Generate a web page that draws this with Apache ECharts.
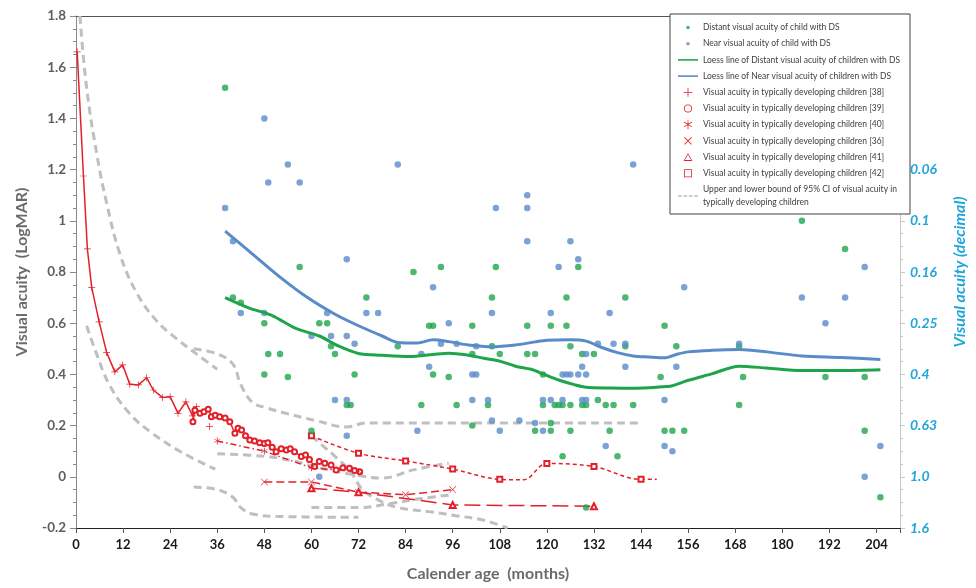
<!DOCTYPE html>
<html>
<head>
<meta charset="utf-8">
<script src="https://cdn.jsdelivr.net/npm/echarts@6/dist/echarts.min.js"></script>
<style>
  html, body { margin: 0; padding: 0; background: #fff; }
  #chart { width: 976px; height: 588px; }
</style>
</head>
<body>
<div id="chart"></div>
<script>
// children with DS: [age in months, logMAR]
const distantDS = [
  [38,1.52],[40,0.70],[42,0.68],[48,0.60],[48,0.40],[49,0.48],[52,0.48],[54,0.39],[57,0.82],[60,0.18],
  [62,0.60],[64,0.60],[65,0.51],[66,0.48],[69,0.28],[70,0.28],[71,0.40],[74,0.70],[82,0.51],[86,0.80],
  [88,0.28],[90,0.59],[91,0.59],[91,0.40],[93,0.82],[95,0.39],[97,0.28],[101,0.59],[101,0.48],[101,0.20],
  [105,0.28],[106,0.70],[106,0.51],[107,0.82],[108,0.48],[115,0.59],[115,0.48],[117,0.48],[117,0.18],[119,0.40],
  [119,0.28],[121,0.59],[121,0.21],[121,0.18],[122,0.28],[123,0.28],[124,0.28],[124,0.08],[125,0.70],[125,0.59],
  [126,0.51],[126,0.28],[126,0.18],[128,0.82],[129,0.48],[129,0.28],[130,0.28],[130,-0.12],[132,0.48],[133,0.30],
  [135,0.28],[136,0.18],[137,0.28],[138,0.08],[140,0.70],[140,0.51],[142,0.28],[149,0.39],[150,0.59],[150,0.18],
  [152,0.18],[153,0.51],[155,0.18],[169,0.51],[169,0.28],[170,0.39],[185,1.00],[191,0.39],[196,0.89],[201,0.39],
  [201,0.18],[205,-0.08]
];
const nearDS = [
  [38,1.05],[40,0.92],[42,0.64],[48,1.40],[48,0.64],[49,1.15],[54,1.22],[57,1.15],[60,0.55],[62,0.00],
  [64,0.64],[65,0.55],[66,0.30],[69,0.85],[69,0.55],[69,0.30],[69,0.16],[71,0.52],[74,0.64],[77,0.64],
  [82,1.22],[87,0.18],[88,0.48],[90,0.43],[91,0.74],[93,0.52],[95,0.60],[97,0.52],[101,0.40],[101,0.30],
  [102,0.51],[102,0.40],[105,0.30],[106,0.64],[106,0.22],[107,1.05],[108,0.18],[113,0.22],[115,1.10],[115,1.05],
  [115,0.92],[117,0.21],[119,0.30],[119,0.18],[121,0.64],[121,0.30],[123,0.82],[124,0.40],[124,0.30],[125,0.40],
  [126,0.92],[126,0.40],[128,0.85],[128,0.40],[129,0.43],[129,0.30],[130,0.48],[130,0.40],[130,0.30],[133,0.52],
  [135,0.12],[136,0.64],[137,0.52],[140,0.52],[140,0.43],[142,1.22],[150,0.30],[150,0.12],[152,0.10],[153,0.43],
  [155,0.74],[169,0.52],[185,0.70],[191,0.60],[196,0.70],[201,0.82],[201,0.00],[205,0.12]
];
const loessDistant = [
  [38,0.70],[44,0.66],[50,0.63],[56,0.58],[62,0.55],[67,0.51],[72,0.482],[78,0.475],[85,0.47],[91,0.478],
  [95,0.483],[100,0.475],[104,0.463],[108,0.452],[112,0.432],[116,0.42],[119,0.402],[123,0.378],[127,0.36],[130,0.35],
  [136,0.347],[142,0.346],[148,0.35],[152,0.356],[155,0.372],[162,0.402],[169,0.432],[176,0.425],[185,0.415],[195,0.415],
  [205,0.418]
];
const loessNear = [
  [38,0.96],[45,0.87],[52,0.78],[59,0.70],[66,0.635],[72,0.59],[78,0.55],[82,0.525],[87,0.523],[91,0.535],
  [95,0.528],[100,0.515],[106,0.508],[112,0.515],[117,0.527],[120,0.533],[126,0.535],[130,0.53],[134,0.505],[138,0.485],
  [142,0.472],[146,0.468],[150,0.465],[153,0.478],[156,0.488],[162,0.494],[169,0.497],[176,0.488],[185,0.472],[195,0.466],
  [205,0.458]
];

// typically developing children, by reference
const ref38 = [
  [0.3,1.66],[1.9,1.175],[2.9,0.89],[4,0.74],[5.9,0.605],[7.8,0.486],[9.9,0.41],[11.9,0.437],[13.7,0.362],[15.9,0.359],
  [18,0.387],[19.7,0.339],[22,0.31],[24,0.313],[26,0.248],[28,0.293],[29.7,0.238],[30.7,0.274]
];
const ref38Extra = [[34,0.196]];
const ref39 = [
  [29.8,0.215],[30.3,0.26],[31.6,0.248],[32.6,0.254],[33.7,0.264],[34.5,0.235],[35.5,0.24],[36.6,0.235],[38,0.23],[39.2,0.215],
  [40.5,0.17],[41.3,0.19],[42.2,0.183],[43.2,0.16],[44.3,0.144],[45.5,0.14],[46.8,0.133],[48,0.13],[48.9,0.133],[50,0.115],
  [51,0.098],[52.3,0.11],[53.6,0.105],[54.6,0.11],[55.7,0.098],[57.4,0.079],[58.5,0.085],[59.5,0.068],[60.8,0.04],[62,0.06],
  [63.4,0.053],[65,0.046],[66.3,0.027],[68,0.035],[69.7,0.033],[71,0.025],[72.3,0.02]
];
const ref40 = [[36,0.14],[48,0.10],[60,0.035],[72,0.02]];
const ref36 = [[48,-0.02],[60,-0.02],[72,-0.06],[84,-0.07],[96,-0.05]];
const ref41 = [[60,-0.045],[72,-0.06],[96,-0.11],[132,-0.115]];
const ref42 = [[60,0.16],[72,0.092],[84,0.062],[96,0.03],[108,-0.01],[114,-0.012],[120,0.052],[132,0.04],[144,-0.01],[148,-0.01]];
const ref42Marked = [60,72,84,96,108,120,132,144];

// 95% CI bounds (pieces of dashed line)
const ciUpperEarly = [[1,1.8],[2.7,1.52],[5.3,1.26],[7.8,1.07],[11.2,0.87],[15.4,0.72],[20.5,0.61],[25.6,0.54],[30.7,0.48],[36,0.42]];
const ciUpperLate = [[30,0.50],[36,0.48],[40,0.44],[42,0.36],[45,0.29],[48.5,0.27],[53,0.25],[61,0.22],[69,0.195],[74,0.21],[144,0.21]];
const ciLowerEarly = [[2.7,0.59],[5,0.49],[8.5,0.36],[13.5,0.25],[19,0.175],[27,0.095],[35.5,0.03]];
const ciMid = [[36,0.09],[48,0.08],[56,0.06],[62,0.035],[72,0.005],[78,-0.005],[86,0.027],[95,0.053]];
const ciDrop = [[60,0.16],[63,0.12],[66,0.08],[70,0.02],[73,-0.05],[77,-0.09],[82,-0.12],[90,-0.136],[96,-0.15],[104,-0.17],[110,-0.2]];
const ciLowFlat = [[60,-0.12],[72,-0.12],[80,-0.105],[88,-0.085],[96,-0.07]];
const ciLowCurve = [[30,-0.04],[36,-0.05],[40,-0.08],[42,-0.12],[45,-0.145],[52,-0.155],[72,-0.158]];

// right axis: logMAR position -> decimal acuity label
const rightTickLogMAR = [1.2, 1.0, 0.8, 0.6, 0.4, 0.2, 0, -0.2];
const rightTickText = ['0.06', '0.1', '0.16', '0.25', '0.4', '0.63', '1.0', '1.6'];

const GREEN = '#1ea54c';
const BLUE = '#5a8bc9';
const RED = '#e3202a';
const GREY = '#bfbfbf';
const CYAN = '#1fa5dc';

const N_DIST = 'Distant visual acuity of child with DS';
const N_NEAR = 'Near visual acuity of child with DS';
const N_LD = 'Loess line of Distant visual acuity of children with DS';
const N_LN = 'Loess line of Near visual acuity of children with DS';
const N38 = 'Visual acuity in typically developing children [38]';
const N39 = 'Visual acuity in typically developing children [39]';
const N40 = 'Visual acuity in typically developing children [40]';
const N36 = 'Visual acuity in typically developing children [36]';
const N41 = 'Visual acuity in typically developing children [41]';
const N42 = 'Visual acuity in typically developing children [42]';
const N_CI = 'Upper and lower bound of 95% CI of visual acuity in\ntypically developing children';

// marker shapes for the lines
const PLUS = 'path://M3.6,0h0.8v3.6h3.6v0.8h-3.6v3.6h-0.8v-3.6h-3.6v-0.8h3.6z';
const CROSS = 'path://M0.5,0L4,3.5L7.5,0L8,0.5L4.5,4L8,7.5L7.5,8L4,4.5L0.5,8L0,7.5L3.5,4L0,0.5z';
const STAR = 'path://M3.6,0h0.8v8h-0.8z M0.5,1.9L0.8,1.4L7.5,5.6L7.2,6.1z M7.2,1.4L7.5,1.9L0.8,6.1L0.5,5.6z';

// legend icons (corner specks keep the 10x10 box)
const PAD = 'M0,0h0.01v0.01z M10,10h-0.01v-0.01z ';
const L_DOT = 'path://' + PAD + 'M3.2,5a1.8,1.8 0 1,0 3.6,0a1.8,1.8 0 1,0 -3.6,0z';
const L_PLUS = 'path://' + PAD + 'M4.6,0.5h0.8v4.1h4.1v0.8h-4.1v4.1h-0.8v-4.1h-4.1v-0.8h4.1z';
const L_CIRC = 'path://' + PAD + 'M1,5a4,4 0 1,0 8,0a4,4 0 1,0 -8,0z M1.8,5a3.2,3.2 0 1,1 6.4,0a3.2,3.2 0 1,1 -6.4,0z';
const L_STAR = 'path://' + PAD + 'M4.6,0.5h0.8v9h-0.8z M0.9,2.7L1.3,2.1L9.1,6.7L8.7,7.3z M8.7,2.1L9.1,2.7L1.3,7.3L0.9,6.7z';
const L_CROSS = 'path://' + PAD + 'M1.8,1.2L5,4.4L8.2,1.2L8.8,1.8L5.6,5L8.8,8.2L8.2,8.8L5,5.6L1.8,8.8L1.2,8.2L4.4,5L1.2,1.8z';
const L_TRI = 'path://' + PAD + 'M5,0.8L9.4,8.8L0.6,8.8Z M5,2.4L1.95,8L8.05,8Z';
const L_RECT = 'path://' + PAD + 'M1,1h8v8h-8z M1.8,1.8v6.4h6.4v-6.4z';
const L_LINE = 'path://M0,4.2h20v1.6h-20z';
const L_DASH = 'path://M0,4.4h3.5v1.2h-3.5z M5,4.4h3.5v1.2h-3.5z M10,4.4h3.5v1.2h-3.5z M15,4.4h3.5v1.2h-3.5z';
const NO_STROKE = { borderWidth: 0, borderColor: 'transparent' };

function ciSeries(data) {
  return {
    name: N_CI, type: 'line', data: data, smooth: 0.4, symbol: 'none', z: 1,
    color: GREY, itemStyle: { color: GREY },
    lineStyle: { color: GREY, width: 3, type: [8, 5] }
  };
}

function refSeries(name, data, symbol, size, dash, smooth) {
  const hollow = symbol.indexOf('empty') === 0;
  return {
    name: name, type: 'line', data: data, smooth: smooth || false, z: 2,
    symbol: symbol, symbolSize: size, showSymbol: true,
    color: RED,
    itemStyle: hollow ? { color: RED, borderColor: RED, borderWidth: 0.8 } : { color: RED, borderWidth: 0 },
    lineStyle: { color: RED, width: 1.5, type: dash }
  };
}

const chart = echarts.init(document.getElementById('chart'), null, { renderer: 'canvas' });

chart.setOption({
  animation: false,
  backgroundColor: '#fff',
  textStyle: { fontFamily: 'Lato, "Open Sans", sans-serif' },
  grid: { left: 76, right: 74, top: 16, bottom: 60 },
  legend: {
    orient: 'vertical',
    right: 66,
    top: 14,
    padding: [7, 10, 5, 8],
    itemWidth: 20,
    itemHeight: 10,
    itemGap: 3.2,
    backgroundColor: '#fff',
    borderColor: '#404040',
    borderWidth: 1,
    borderRadius: 0,
    itemStyle: NO_STROKE,
    textStyle: {
      fontSize: 8.5,
      color: '#404040',
      lineHeight: 13,
      fontFamily: 'Lato, sans-serif'
    },
    data: [
      { name: N_DIST, icon: L_DOT, itemStyle: NO_STROKE },
      { name: N_NEAR, icon: L_DOT, itemStyle: NO_STROKE },
      { name: N_LD, icon: L_LINE, itemStyle: NO_STROKE },
      { name: N_LN, icon: L_LINE, itemStyle: NO_STROKE },
      { name: N38, icon: L_PLUS, itemStyle: NO_STROKE },
      { name: N39, icon: L_CIRC, itemStyle: NO_STROKE },
      { name: N40, icon: L_STAR, itemStyle: NO_STROKE },
      { name: N36, icon: L_CROSS, itemStyle: NO_STROKE },
      { name: N41, icon: L_TRI, itemStyle: NO_STROKE },
      { name: N42, icon: L_RECT, itemStyle: NO_STROKE },
      { name: N_CI, icon: L_DASH, itemStyle: NO_STROKE }
    ]
  },
  xAxis: [{
    type: 'value',
    min: 0, max: 210, interval: 12,
    name: 'Calender age  (months)',
    nameLocation: 'middle',
    nameGap: 38,
    nameTextStyle: { color: '#6b6b6b', fontSize: 16, fontWeight: 'bold' },
    axisLine: { show: true, onZero: false, lineStyle: { color: '#222', width: 1.2 } },
    axisTick: { show: true, length: 5, lineStyle: { color: '#555' } },
    axisLabel: {
      color: '#1a1a1a', fontSize: 13, fontWeight: 'bold', margin: 10,
      formatter: function (v) { return v % 12 === 0 ? String(v) : ''; }
    },
    splitLine: { show: false }
  }, {
    type: 'value',
    position: 'top',
    min: 0, max: 210,
    axisLine: { show: true, onZero: false, lineStyle: { color: '#555', width: 1 } },
    axisTick: { show: false },
    axisLabel: { show: false },
    splitLine: { show: false }
  }],
  yAxis: [{
    type: 'value',
    min: -0.2, max: 1.8, interval: 0.2,
    name: 'Visual acuity  (LogMAR)',
    nameLocation: 'middle',
    nameGap: 46,
    nameTextStyle: { color: '#6b6b6b', fontSize: 16, fontWeight: 'bold' },
    axisLine: { show: true, onZero: false, lineStyle: { color: '#8a8a8a' } },
    axisTick: { show: true, length: 6, lineStyle: { color: '#8a8a8a' } },
    minorTick: { show: true, splitNumber: 4, length: 3, lineStyle: { color: '#8a8a8a' } },
    axisLabel: {
      color: '#5f5f5f', fontSize: 13.5, fontWeight: 'bold', margin: 10,
      formatter: function (v) { return String(Math.round(v * 10) / 10); }
    },
    splitLine: { show: false }
  }, {
    type: 'value',
    position: 'right',
    min: -0.2, max: 1.8, interval: 0.2,
    name: 'Visual acuity (decimal)',
    nameLocation: 'middle',
    nameGap: 52,
    nameRotate: 90,
    nameTextStyle: { color: CYAN, fontSize: 16, fontWeight: 'bold', fontStyle: 'italic' },
    axisLine: { show: true, onZero: false, lineStyle: { color: '#c8c8c8' } },
    axisTick: { show: true, length: 5, lineStyle: { color: '#c8c8c8' } },
    minorTick: { show: true, splitNumber: 4, length: 3, lineStyle: { color: '#c8c8c8' } },
    axisLabel: {
      color: CYAN, fontSize: 14, fontWeight: 'bold', fontStyle: 'italic', margin: 10,
      formatter: function (v) {
        for (let i = 0; i < rightTickLogMAR.length; i++) {
          if (Math.abs(v - rightTickLogMAR[i]) < 1e-6) return rightTickText[i];
        }
        return '';
      }
    },
    splitLine: { show: false }
  }],
  series: [
    ciSeries(ciUpperEarly),
    ciSeries(ciUpperLate),
    ciSeries(ciLowerEarly),
    ciSeries(ciMid),
    ciSeries(ciDrop),
    ciSeries(ciLowFlat),
    ciSeries(ciLowCurve),

    refSeries(N38, ref38, PLUS, 7, 'solid'),
    Object.assign(refSeries(N38, ref38Extra, PLUS, 7, 'solid'), { lineStyle: { width: 0 } }),
    refSeries(N39, ref39, 'emptyCircle', 5, 'solid'),
    refSeries(N40, ref40, STAR, 7, [6, 3, 1.5, 3]),
    refSeries(N36, ref36, CROSS, 7, [8, 4]),
    refSeries(N41, ref41, 'emptyTriangle', 6, [16, 6]),
    refSeries(N42, ref42.map(function (p) {
      return ref42Marked.indexOf(p[0]) >= 0 ? p : { value: p, symbol: 'none' };
    }), 'emptyRect', 5, [4, 3], 0.35),

    {
      name: N_DIST, type: 'scatter', data: distantDS, z: 3,
      symbol: 'circle', symbolSize: 6.5, color: GREEN, itemStyle: { color: GREEN }
    },
    {
      name: N_NEAR, type: 'scatter', data: nearDS, z: 3,
      symbol: 'circle', symbolSize: 6.5, color: BLUE, itemStyle: { color: BLUE }
    },
    {
      name: N_LD, type: 'line', data: loessDistant, smooth: 0.3, symbol: 'none', z: 4,
      color: GREEN, itemStyle: { color: GREEN }, lineStyle: { color: GREEN, width: 3 }
    },
    {
      name: N_LN, type: 'line', data: loessNear, smooth: 0.3, symbol: 'none', z: 4,
      color: BLUE, itemStyle: { color: BLUE }, lineStyle: { color: BLUE, width: 3 }
    }
  ]
});
</script>
</body>
</html>
